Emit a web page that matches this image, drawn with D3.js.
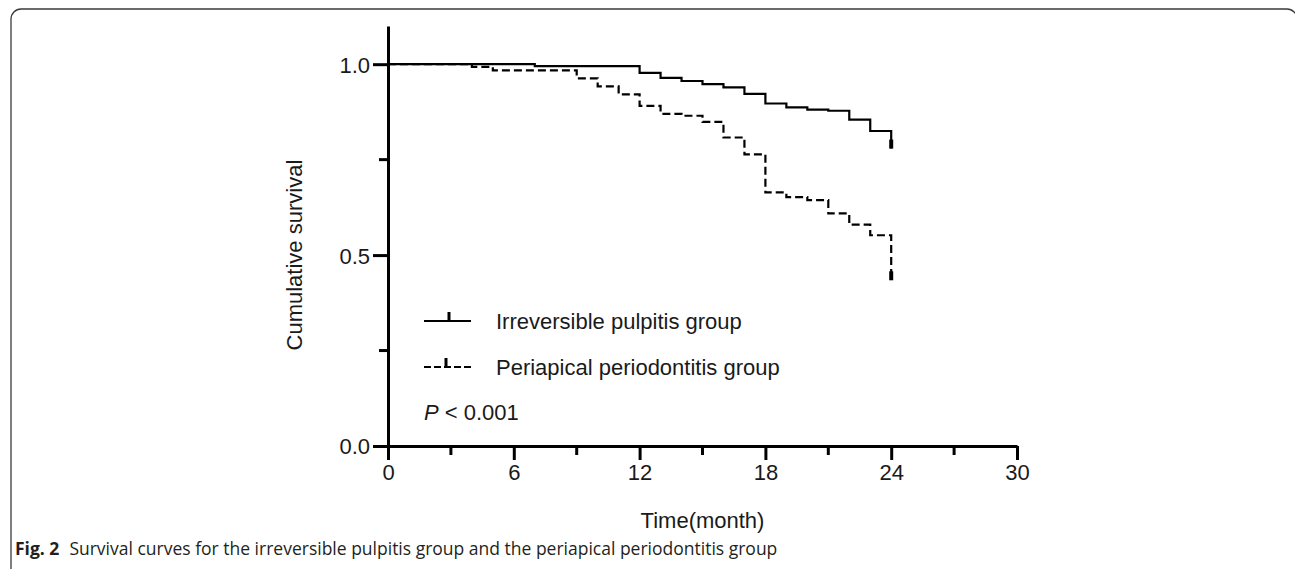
<!DOCTYPE html>
<html>
<head>
<meta charset="utf-8">
<script src="https://cdn.jsdelivr.net/npm/d3@7"></script>
<style>
  body { margin: 0; background: #fff; }
  svg { display: block; }
  .axis text { font-family: "Liberation Sans", Arial, sans-serif; font-size: 22px; fill: #1a1a1a; }
  .lbl { font-family: "Liberation Sans", Arial, sans-serif; font-size: 22px; fill: #1a1a1a; }
  .cap { font-family: "Open Sans", sans-serif; font-size: 17.5px; fill: #231f20; }
</style>
</head>
<body>
<div id="chart"></div>
<script>
// survival data (months, cumulative survival)
var pulpitisMonths   = [0, 7, 12, 13, 14, 15, 16, 17, 18, 19, 20, 21, 22, 23, 24];
var pulpitisSurvival = [1, 0.995, 0.977, 0.964, 0.956, 0.948, 0.939, 0.922, 0.897, 0.887, 0.881, 0.878, 0.855, 0.825, 0.779];

var periapicalMonths   = [0, 4, 5, 9, 10, 11, 12, 13, 14, 15, 16, 17, 18, 19, 20, 21, 22, 23, 24];
var periapicalSurvival = [1, 0.993, 0.984, 0.963, 0.942, 0.921, 0.891, 0.870, 0.865, 0.849, 0.808, 0.764, 0.664, 0.652, 0.644, 0.609, 0.580, 0.552, 0.434];

var xTicks = [0, 6, 12, 18, 24, 30];
var xMinorTicks = [3, 9, 15, 21, 27];
var yTicks = [0, 0.5, 1.0];
var yMinorTicks = [0.25, 0.75];

var legendNames = ["Irreversible pulpitis group", "Periapical periodontitis group"];

var w = 1295, h = 569;

var svg = d3.select('#chart').append('svg')
  .attr('width', w)
  .attr('height', h);

// figure frame (rounded top corners, open at the bottom)
var frame = d3.path();
frame.moveTo(11, h + 2);
frame.lineTo(11, 19);
frame.arcTo(11, 9, 21, 9, 10);
frame.lineTo(1287, 9);
frame.arcTo(1297, 9, 1297, 19, 10);
frame.lineTo(1297, h + 2);
svg.append('path')
  .attr('d', frame.toString())
  .attr('fill', 'none')
  .attr('stroke', '#3a3a3a')
  .attr('stroke-width', 1.3);

var x = d3.scaleLinear().domain([0, 30]).range([388, 1017]);
var y = d3.scaleLinear().domain([0, 1.1]).range([446, 26]);

// minor ticks first so the axis lines sit on top
svg.append('g').selectAll('line.xm')
  .data(xMinorTicks).enter().append('line')
  .attr('x1', function(d){ return x(d); })
  .attr('x2', function(d){ return x(d); })
  .attr('y1', y(0))
  .attr('y2', y(0) + 9)
  .attr('stroke', '#000')
  .attr('stroke-width', 3);

svg.append('g').selectAll('line.ym')
  .data(yMinorTicks).enter().append('line')
  .attr('x1', x(0) - 9)
  .attr('x2', x(0))
  .attr('y1', function(d){ return y(d); })
  .attr('y2', function(d){ return y(d); })
  .attr('stroke', '#000')
  .attr('stroke-width', 3);

var xAxis = d3.axisBottom(x)
  .tickValues(xTicks)
  .tickSizeInner(14)
  .tickSizeOuter(0)
  .tickPadding(4)
  .tickFormat(d3.format('d'));

var yAxis = d3.axisLeft(y)
  .tickValues(yTicks)
  .tickSizeInner(15)
  .tickSizeOuter(0)
  .tickPadding(3)
  .tickFormat(d3.format('.1f'));

var gx = svg.append('g').attr('class', 'axis')
  .attr('transform', 'translate(0,' + y(0) + ')')
  .call(xAxis);

var gy = svg.append('g').attr('class', 'axis')
  .attr('transform', 'translate(' + x(0) + ',0)')
  .call(yAxis);

[gx, gy].forEach(function(g){
  g.select('.domain').attr('stroke', '#000').attr('stroke-width', 3);
  g.selectAll('.tick line').attr('stroke', '#000').attr('stroke-width', 3);
});
gy.selectAll('.tick text').attr('dy', '0.36em');

// axis titles
svg.append('text').attr('class', 'lbl')
  .attr('transform', 'translate(302,' + y(0.5) + ') rotate(-90)')
  .attr('text-anchor', 'middle')
  .text('Cumulative survival');

svg.append('text').attr('class', 'lbl')
  .attr('x', (x(0) + x(30)) / 2)
  .attr('y', 528)
  .attr('text-anchor', 'middle')
  .text('Time(month)');

// survival curves
var line = d3.line()
  .x(function(d){ return x(d[0]); })
  .y(function(d){ return y(d[1]); })
  .curve(d3.curveStepAfter);

var series = [
  { pts: d3.zip(pulpitisMonths, pulpitisSurvival), dash: null },
  { pts: d3.zip(periapicalMonths, periapicalSurvival), dash: '8,4' }
];

series.forEach(function(s){
  svg.append('path')
    .attr('d', line(s.pts))
    .attr('fill', 'none')
    .attr('stroke', '#000')
    .attr('stroke-width', 2.2)
    .attr('stroke-dasharray', s.dash);

  // censor mark at the last point
  var last = s.pts[s.pts.length - 1];
  svg.append('line')
    .attr('x1', x(last[0])).attr('x2', x(last[0]))
    .attr('y1', y(last[1]))
    .attr('y2', y(last[1]) - 9)
    .attr('stroke', '#000')
    .attr('stroke-width', 4);
});

// legend
var legend = svg.append('g');
legendNames.forEach(function(name, i){
  var ly = 321 + i * 46;
  legend.append('line')
    .attr('x1', 424).attr('x2', 471)
    .attr('y1', ly).attr('y2', ly)
    .attr('stroke', '#000')
    .attr('stroke-width', 2.2)
    .attr('stroke-dasharray', i === 1 ? '7,3' : null);
  legend.append('line')
    .attr('x1', i === 1 ? 446 : 449).attr('x2', i === 1 ? 446 : 449)
    .attr('y1', ly).attr('y2', ly - 9)
    .attr('stroke', '#000')
    .attr('stroke-width', 3);
  legend.append('text').attr('class', 'lbl')
    .attr('x', 496)
    .attr('y', ly + 8)
    .text(name);
});

var pText = svg.append('text').attr('class', 'lbl')
  .attr('x', 424)
  .attr('y', 420);
pText.append('tspan').attr('font-style', 'italic').text('P');
pText.append('tspan').text(' < 0.001');

// caption
var cap = svg.append('text').attr('class', 'cap')
  .attr('x', 15)
  .attr('y', 555);
cap.append('tspan').attr('font-weight', 'bold').text('Fig. 2');
cap.append('tspan').attr('dx', 10).text('Survival curves for the irreversible pulpitis group and the periapical periodontitis group');
</script>
</body>
</html>
